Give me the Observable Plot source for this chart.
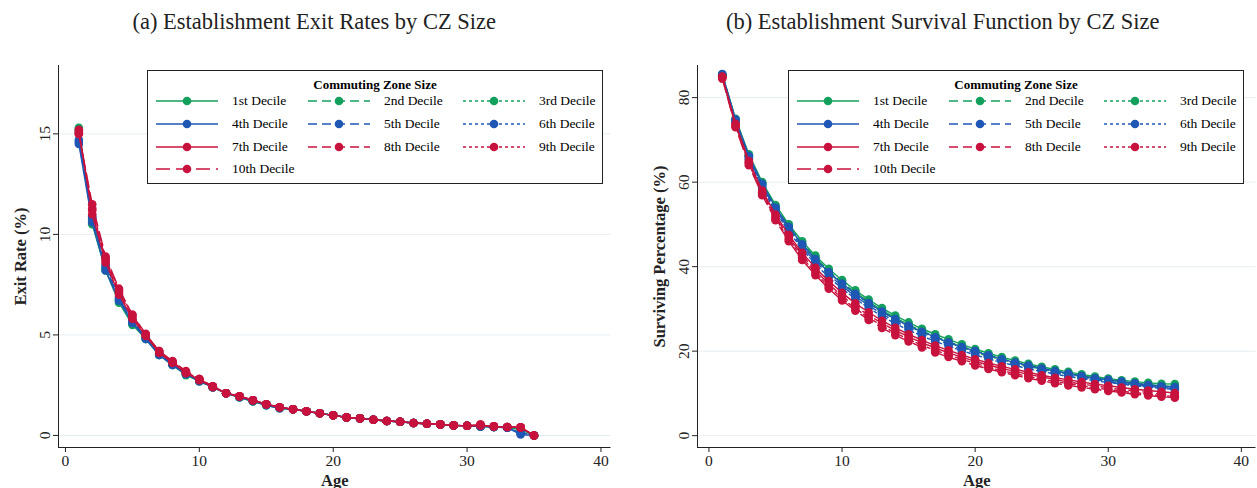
<!DOCTYPE html>
<html><head><meta charset="utf-8">
<script src="https://cdn.jsdelivr.net/npm/d3@7"></script>
<script src="https://cdn.jsdelivr.net/npm/@observablehq/plot@0.6"></script>
<style>
body{margin:0;background:#fff;font-family:"Liberation Serif",serif;}
#wrap{display:flex;width:1257px;}
.panel{position:relative;width:628.5px;}
.title{height:45px;line-height:44px;text-align:center;font-size:22.5px;color:#222;}
.legend{position:absolute;top:70px;height:114px;width:456px;border:1px solid #222;background:#fff;box-sizing:border-box;}
.legend .lt{position:absolute;top:6px;width:100%;text-align:center;font-weight:bold;font-size:13px;}
.item{position:absolute;display:flex;align-items:center;font-size:13.5px;}
.item svg{margin-right:6px;}
</style></head><body>
<div id="wrap"></div>
<script>
const ages = d3.range(1, 36);
const labels = ["1st Decile","2nd Decile","3rd Decile","4th Decile","5th Decile","6th Decile","7th Decile","8th Decile","9th Decile","10th Decile"];
const colors = ["#13a05d","#13a05d","#13a05d","#1f57b5","#1f57b5","#1f57b5","#c8123e","#c8123e","#c8123e","#c8123e"];
const dashes = [null,"9,5","3,3",null,"9,5","3,3",null,"9,5","3,3","14,6"];

const exitRates = [
  [15.3,10.5,8.2,6.6,5.5,4.8,4.0,3.5,3.0,2.7,2.4,2.1,1.9,1.7,1.5,1.35,1.3,1.2,1.1,1.0,0.9,0.85,0.78,0.72,0.68,0.62,0.58,0.55,0.5,0.48,0.45,0.42,0.4,0.3,0.0],
  [15.2,10.6,8.3,6.7,5.6,4.8,4.0,3.5,3.05,2.7,2.4,2.1,1.9,1.7,1.5,1.35,1.3,1.2,1.1,1.0,0.9,0.85,0.78,0.72,0.68,0.62,0.58,0.55,0.5,0.48,0.45,0.42,0.4,0.3,0.0],
  [15.1,10.7,8.3,6.8,5.6,4.9,4.05,3.55,3.05,2.7,2.4,2.1,1.9,1.7,1.55,1.4,1.3,1.2,1.1,1.0,0.9,0.85,0.78,0.72,0.68,0.62,0.58,0.55,0.5,0.48,0.45,0.42,0.4,0.3,0.0],
  [14.5,10.6,8.2,6.7,5.6,4.8,4.0,3.5,3.05,2.7,2.4,2.1,1.9,1.7,1.5,1.35,1.3,1.2,1.1,1.0,0.9,0.85,0.78,0.72,0.68,0.62,0.58,0.55,0.5,0.48,0.45,0.42,0.38,0.05,0.0],
  [14.6,10.8,8.4,6.8,5.7,4.85,4.05,3.55,3.1,2.75,2.4,2.1,1.95,1.75,1.55,1.4,1.3,1.2,1.1,1.0,0.9,0.85,0.78,0.72,0.68,0.62,0.58,0.55,0.5,0.48,0.45,0.42,0.38,0.1,0.0],
  [14.7,10.9,8.5,6.9,5.75,4.9,4.1,3.6,3.1,2.75,2.4,2.1,1.95,1.75,1.55,1.4,1.3,1.2,1.1,1.0,0.9,0.85,0.78,0.72,0.68,0.62,0.58,0.55,0.5,0.48,0.45,0.42,0.38,0.15,0.0],
  [15.2,11.0,8.6,7.0,5.8,4.95,4.1,3.6,3.1,2.75,2.4,2.1,1.95,1.75,1.55,1.4,1.3,1.2,1.1,1.0,0.9,0.85,0.78,0.72,0.68,0.62,0.58,0.55,0.5,0.48,0.5,0.45,0.42,0.4,0.0],
  [15.0,11.2,8.7,7.1,5.9,5.0,4.15,3.65,3.15,2.8,2.45,2.1,1.95,1.75,1.55,1.4,1.3,1.2,1.1,1.0,0.9,0.85,0.78,0.72,0.68,0.62,0.58,0.55,0.5,0.48,0.5,0.45,0.42,0.4,0.0],
  [15.1,11.3,8.8,7.2,6.0,5.0,4.2,3.65,3.15,2.8,2.45,2.1,1.95,1.75,1.55,1.4,1.3,1.2,1.1,1.0,0.9,0.85,0.78,0.72,0.68,0.62,0.58,0.55,0.5,0.48,0.52,0.45,0.42,0.4,0.0],
  [15.0,11.5,8.9,7.3,6.0,5.05,4.2,3.7,3.2,2.8,2.45,2.1,1.95,1.75,1.55,1.4,1.3,1.2,1.1,1.0,0.9,0.85,0.78,0.72,0.68,0.62,0.58,0.55,0.5,0.48,0.55,0.45,0.42,0.4,0.0]
];
const survival = [
  [85.5,75.0,66.6,60.0,54.6,50.0,46.0,42.6,39.5,36.8,34.4,32.2,30.2,28.4,26.8,25.3,24.0,22.8,21.6,20.5,19.5,18.6,17.8,17.0,16.3,15.7,15.1,14.5,14.0,13.5,13.1,12.8,12.5,12.3,12.2],
  [85.4,74.8,66.3,59.7,54.2,49.6,45.6,42.1,39.0,36.3,33.9,31.7,29.7,27.9,26.3,24.8,23.5,22.3,21.1,20.1,19.1,18.2,17.4,16.7,16.0,15.3,14.7,14.2,13.7,13.2,12.8,12.4,12.1,11.8,11.6],
  [85.3,74.6,66.0,59.4,53.9,49.2,45.2,41.7,38.6,35.9,33.5,31.3,29.3,27.5,25.9,24.5,23.2,22.0,20.9,19.8,18.8,18.0,17.2,16.4,15.7,15.1,14.5,14.0,13.5,13.0,12.6,12.2,11.9,11.6,11.4],
  [85.6,74.8,66.2,59.6,54.0,49.4,45.3,41.8,38.7,36.0,33.6,31.4,29.4,27.6,26.0,24.6,23.3,22.1,21.0,20.0,19.0,18.1,17.3,16.6,15.9,15.3,14.7,14.1,13.6,13.2,12.8,12.4,12.0,11.7,11.5],
  [85.4,74.5,65.8,59.1,53.5,48.8,44.7,41.2,38.1,35.4,33.0,30.8,28.8,27.0,25.5,24.1,22.8,21.6,20.5,19.5,18.5,17.7,16.9,16.2,15.5,14.9,14.3,13.8,13.3,12.8,12.4,12.0,11.7,11.4,11.1],
  [85.2,74.2,65.4,58.6,53.0,48.3,44.2,40.6,37.5,34.8,32.4,30.2,28.3,26.5,25.0,23.6,22.3,21.2,20.1,19.1,18.2,17.3,16.6,15.8,15.2,14.6,14.0,13.5,13.0,12.6,12.2,11.8,11.5,11.2,10.9],
  [85.0,73.8,65.0,58.0,52.3,47.5,43.3,39.7,36.6,33.8,31.3,29.2,27.2,25.5,24.0,22.6,21.3,20.2,19.1,18.1,17.2,16.4,15.7,15.0,14.3,13.7,13.2,12.7,12.2,11.8,11.4,11.0,10.7,10.4,10.1],
  [84.9,73.6,64.7,57.6,51.8,47.0,42.7,39.1,35.9,33.1,30.6,28.5,26.6,24.9,23.4,22.0,20.8,19.6,18.6,17.6,16.7,15.9,15.2,14.5,13.9,13.3,12.7,12.2,11.8,11.3,10.9,10.6,10.2,9.9,9.7],
  [84.7,73.3,64.4,57.3,51.4,46.5,42.2,38.5,35.3,32.5,30.1,27.9,26.0,24.3,22.8,21.4,20.2,19.1,18.1,17.1,16.2,15.4,14.7,14.0,13.4,12.8,12.3,11.8,11.3,10.9,10.5,10.2,9.8,9.5,9.3],
  [84.5,73.0,64.0,56.9,51.0,46.0,41.6,38.0,34.8,32.0,29.6,27.4,25.5,23.8,22.3,20.9,19.7,18.6,17.6,16.6,15.8,15.0,14.3,13.6,13.0,12.4,11.9,11.4,11.0,10.6,10.2,9.8,9.5,9.2,9.0]
];

function panel(title, series, yDomain, yTicks, yLabel, mLeft, mRight, xDomain, legendLeft) {
  const div = document.createElement("div");
  div.className = "panel";
  div.innerHTML = `<div class="title">${title}</div>`;
  const marks = [Plot.gridY(yTicks, {stroke: "#e6edf2", strokeOpacity: 1})];
  series.forEach((vals, i) => {
    const rows = ages.map((a, j) => ({age: a, v: vals[j]}));
    marks.push(Plot.line(rows, {x: "age", y: "v", stroke: colors[i], strokeWidth: 1.4, strokeDasharray: dashes[i]}));
    marks.push(Plot.dot(rows, {x: "age", y: "v", fill: colors[i], r: 4.3}));
  });
  marks.push(Plot.axisY(yTicks, {tickRotate: -90, fontSize: 15.5, tickSize: 5, label: yLabel, labelAnchor: "center", labelArrow: "none", labelOffset: 44}));
  marks.push(Plot.axisX([0, 10, 20, 30, 40], {fontSize: 15.5, tickSize: 5, tickPadding: 2, label: "Age", labelAnchor: "center", labelArrow: "none", labelOffset: 38}));
  marks.push(Plot.ruleX([xDomain[0]], {stroke: "#222"}));
  marks.push(Plot.ruleY([yDomain[0]], {stroke: "#222"}));
  const chart = Plot.plot({
    width: 628.5, height: 443,
    marginTop: 20, marginBottom: 41, marginLeft: mLeft, marginRight: mRight,
    style: {fontFamily: "Liberation Serif, serif", fontSize: "15px", color: "#222"},
    x: {domain: xDomain},
    y: {domain: yDomain},
    marks
  });
  d3.select(chart).selectAll("[aria-label='y-axis label'] text, [aria-label='x-axis label'] text")
    .style("font-weight", "bold").style("font-size", "16.5px");
  div.appendChild(chart);

  const lg = document.createElement("div");
  lg.className = "legend";
  lg.style.left = legendLeft + "px";
  lg.innerHTML = `<div class="lt">Commuting Zone Size</div>`;
  const colX = [8, 160, 315], rowY = [22, 45, 68, 90];
  labels.forEach((l, i) => {
    const it = document.createElement("div");
    it.className = "item";
    it.style.left = colX[i % 3] + "px";
    it.style.top = rowY[Math.floor(i / 3)] + "px";
    it.innerHTML = `<svg width="62" height="14"><line x1="0" x2="62" y1="7" y2="7" stroke="${colors[i]}" stroke-width="1.5" ${dashes[i] ? `stroke-dasharray="${dashes[i]}"` : ""}/><circle cx="31" cy="7" r="4.3" fill="${colors[i]}"/></svg><span style="margin-left:8px">${l}</span>`;
    lg.appendChild(it);
  });
  div.appendChild(lg);
  document.getElementById("wrap").appendChild(div);
}

panel("(a) Establishment Exit Rates by CZ Size", exitRates, [-0.6, 18.4], [0, 5, 10, 15], "Exit Rate (%)", 58, 18, [-0.52, 40.75], 147);
panel("(b) Establishment Survival Function by CZ Size", survival, [-2.8, 87.6], [0, 20, 40, 60, 80], "Surviving Percentage (%)", 68, 2, [-0.86, 41.1], 159.5);
</script>
</body></html>
